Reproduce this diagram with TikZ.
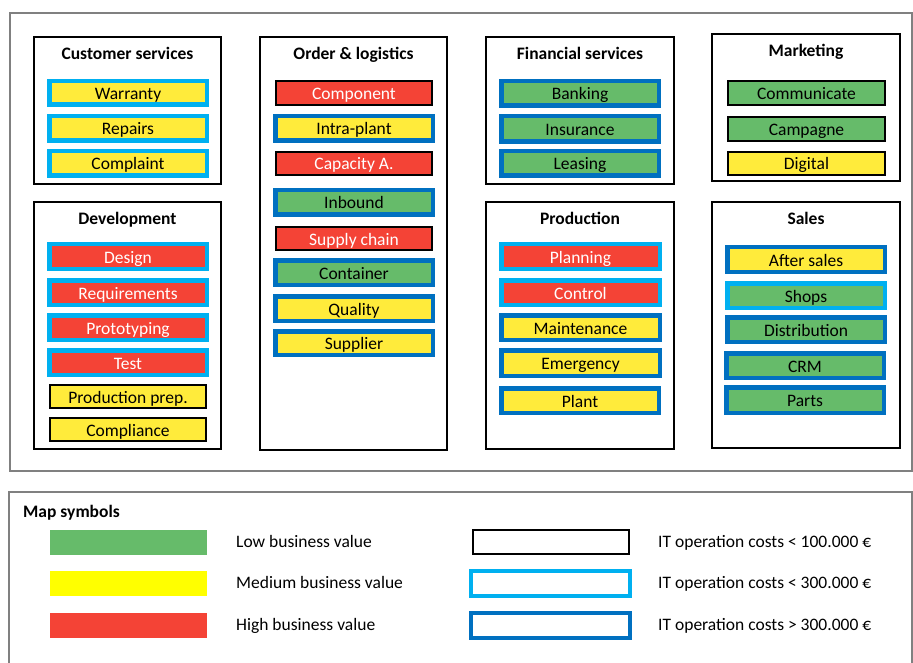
\documentclass[tikz,border=0pt]{standalone}
\usepackage{fontspec}
\setmainfont{Carlito}
\definecolor{cred}{RGB}{244,67,54}
\definecolor{cyel}{RGB}{255,235,59}
\definecolor{cgrn}{RGB}{102,187,106}
\definecolor{lyel}{RGB}{255,255,0}
\definecolor{lblue}{RGB}{0,176,240}
\definecolor{dblue}{RGB}{0,112,192}
\def\lwlb{4.5}
\def\lwdb{4.5}
\def\lwbk{1.6}
\tikzset{
  cellbase/.style={rectangle,inner sep=0pt,font=\fontsize{17.5}{20}\selectfont,text height=13pt,text depth=0pt},
  lb/.style={draw=lblue,line width=4.5pt},
  db/.style={draw=dblue,line width=4.5pt},
  bk/.style={draw=black,line width=1.6pt},
  fr/.style={fill=cred,text=white},
  fy/.style={fill=cyel,text=black},
  fg/.style={fill=cgrn,text=black},
  grpbox/.style={rectangle,draw=black,line width=1.2pt,inner sep=0pt},
  grptitle/.style={font=\bfseries\fontsize{17.5}{20}\selectfont,text height=13pt,text depth=0pt,inner sep=0pt},
  legtext/.style={anchor=west,font=\fontsize{17.5}{20}\selectfont,text height=13pt,text depth=0pt,inner sep=0pt},
  frame/.style={draw=black!50,line width=1.4pt}
}
\newcommand\cell[8]{\node[cellbase,#6,#7,minimum width={(#4-#2-\csname lw#7\endcsname)*1pt},minimum height={(#5-#3-\csname lw#7\endcsname)*1pt}] (#1) at ({(#2+#4)/2},{(#3+#5)/2}) {#8};}
\newcommand\grp[6]{\node[grpbox,minimum width={(#4-#2)*1pt},minimum height={(#5-#3)*1pt}] (#1) at ({(#2+#4)/2},{(#3+#5)/2}) {};
\node[grptitle,below=16.5pt of #1.north,anchor=center] (#1t) {#6};}
\usetikzlibrary{positioning}
\begin{document}
\begin{tikzpicture}[x=1pt,y=-1pt]
\useasboundingbox (0,0) rectangle (913,663);
% outer frames
\draw[frame] (10,13) rectangle (912,471);
\draw[frame] (9,670) -- (9,492) -- (912,492) -- (912,670);
% groups
\grp{cs}{34}{37}{221}{184}{Customer services}
\grp{dev}{34}{202}{221}{449}{Development}
\grp{ol}{260}{37}{447}{450}{Order \& logistics}
\grp{fs}{486}{37}{674}{184}{Financial services}
\grp{mk}{712}{34}{900}{181}{Marketing}
\grp{pr}{486}{202}{674}{449}{Production}
\grp{sa}{712}{202}{900}{448}{Sales}
% customer services
\cell{c1}{47}{79}{209}{107}{fy}{lb}{Warranty}
\cell{c2}{47}{114}{209}{143}{fy}{lb}{Repairs}
\cell{c3}{47}{149}{209}{178}{fy}{lb}{Complaint}
% development
\cell{d1}{47}{242}{209}{271}{fr}{lb}{Design}
\cell{d2}{47}{278}{209}{307}{fr}{lb}{Requirements}
\cell{d3}{47}{313}{209}{342}{fr}{lb}{Prototyping}
\cell{d4}{47}{348}{209}{377}{fr}{lb}{Test}
\cell{d5}{49}{384}{207}{409}{fy}{bk}{Production prep.}
\cell{d6}{49}{417}{207}{442}{fy}{bk}{Compliance}
% order & logistics
\cell{o1}{275}{80}{433}{106}{fr}{bk}{Component}
\cell{o2}{273}{114}{435}{143}{fy}{db}{Intra-plant}
\cell{o3}{275}{151}{433}{176}{fr}{bk}{Capacity A.}
\cell{o4}{273}{188}{435}{217}{fg}{db}{Inbound}
\cell{o5}{275}{226}{433}{251}{fr}{bk}{Supply chain}
\cell{o6}{273}{258}{435}{287}{fg}{db}{Container}
\cell{o7}{273}{294}{435}{323}{fy}{db}{Quality}
\cell{o8}{273}{329}{435}{357}{fy}{db}{Supplier}
% financial services
\cell{f1}{499}{79}{661}{108}{fg}{db}{Banking}
\cell{f2}{499}{114}{661}{144}{fg}{db}{Insurance}
\cell{f3}{499}{149}{661}{178}{fg}{db}{Leasing}
% marketing
\cell{m1}{727}{80}{886}{106}{fg}{bk}{Communicate}
\cell{m2}{727}{116}{886}{142}{fg}{bk}{Campagne}
\cell{m3}{727}{151}{886}{176}{fy}{bk}{Digital}
% production
\cell{p1}{499}{242}{662}{271}{fr}{lb}{Planning}
\cell{p2}{499}{278}{662}{307}{fr}{lb}{Control}
\cell{p3}{499}{313}{662}{342}{fy}{db}{Maintenance}
\cell{p4}{499}{348}{662}{378}{fy}{db}{Emergency}
\cell{p5}{499}{386}{661}{415}{fy}{db}{Plant}
% sales
\cell{s1}{725}{245}{887}{274}{fy}{db}{After sales}
\cell{s2}{725}{281}{887}{310}{fg}{lb}{Shops}
\cell{s3}{725}{315}{887}{344}{fg}{db}{Distribution}
\cell{s4}{724}{351}{886}{380}{fg}{db}{CRM}
\cell{s5}{724}{385}{886}{415}{fg}{db}{Parts}
% legend
\node[legtext,font=\bfseries\fontsize{17.5}{20}\selectfont] (lt) at (23,511) {Map symbols};
\fill[cgrn] (50,530) rectangle (207,555);
\fill[lyel] (50,571) rectangle (207,596);
\fill[cred] (50,613) rectangle (207,638);
\node[legtext] (l1) at (236,541) {Low business value};
\node[legtext] (l2) at (236,582) {Medium business value};
\node[legtext] (l3) at (236,624) {High business value};
\draw[black,line width=1.6pt] (472.8,529.8) rectangle (629.2,554.2);
\draw[lblue,line width=4pt] (471,571) rectangle (630,596);
\draw[dblue,line width=4pt] (471,613) rectangle (630,638);
\node[legtext] (r1) at (658,541) {IT operation costs < 100.000 €};
\node[legtext] (r2) at (658,582) {IT operation costs < 300.000 €};
\node[legtext] (r3) at (658,624) {IT operation costs > 300.000 €};
\end{tikzpicture}
\end{document}
